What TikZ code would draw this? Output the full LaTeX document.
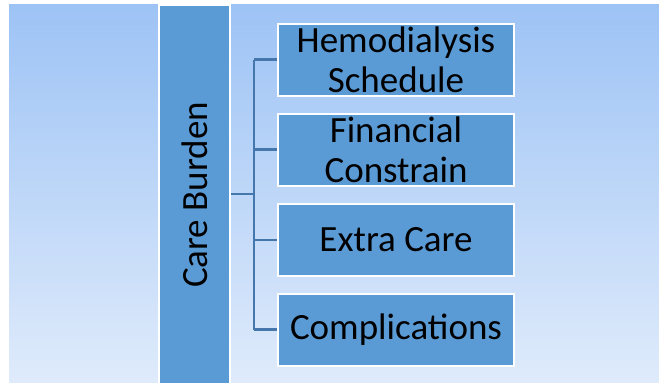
\documentclass[tikz,border=0pt]{standalone}
\usepackage{fontspec}
\setmainfont{Carlito}
\definecolor{bgtop}{RGB}{157,195,245}
\definecolor{bgbot}{RGB}{223,235,251}
\definecolor{boxfill}{RGB}{91,155,213}
\definecolor{linkcol}{RGB}{70,119,172}
\begin{document}
\begin{tikzpicture}[x=1pt,y=-1pt,
  itembox/.style={draw=white,line width=2pt,fill=boxfill,minimum width=236pt,minimum height=72pt,inner sep=0pt,align=center,font=\fontsize{37}{40}\selectfont},
  link/.style={draw=linkcol,line width=2.2pt}]
\useasboundingbox (0,0) rectangle (659,383);
\fill[top color=bgtop,bottom color=bgbot] (9,4) rectangle (659,383);
\begin{scope}
\clip (0,0) rectangle (659,383);
\node[draw=white,line width=2.5pt,fill=boxfill,minimum width=71pt,minimum height=385pt,inner sep=0pt] (care) at (194.25,197.5) {};
\end{scope}
\node[rotate=90,font=\fontsize{37}{40}\selectfont] (caretext) at (194.5,195) {Care Burden};
\node[itembox] (b1) at (396,59.5) {Hemodialysis\\Schedule};
\node[itembox] (b2) at (396,149.5) {Financial\\Constrain};
\node[itembox] (b3) at (396,240) {Extra Care};
\node[itembox] (b4) at (396,329.5) {Complications};
\coordinate (j) at (254,194);
\coordinate (jt) at (254,59.5);
\coordinate (jb) at (254,329.5);
\draw[link] (care.east|-j) -- (j);
\draw[link] (jt) -- (jb);
\draw[link] (jt) -- (b1.west);
\draw[link] (jt|-b2) -- (b2.west);
\draw[link] (jt|-b3) -- (b3.west);
\draw[link] (jt|-b4) -- (b4.west);
\end{tikzpicture}
\end{document}
